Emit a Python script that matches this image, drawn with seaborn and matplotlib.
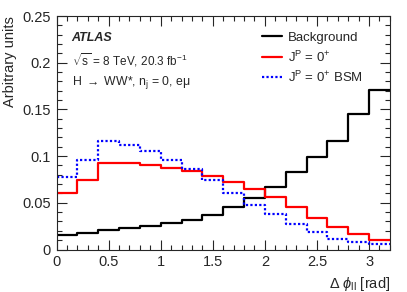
import numpy as np
import pandas as pd
import matplotlib
matplotlib.use("Agg")
import matplotlib.pyplot as plt
import seaborn as sns
from matplotlib.ticker import MultipleLocator
from matplotlib.lines import Line2D

# ---- data ----
bin_edges = [0.0, 0.2, 0.4, 0.6, 0.8, 1.0, 1.2, 1.4, 1.6, 1.8, 2.0, 2.2, 2.4, 2.6, 2.8, 3.0, 3.2]
background = [0.0156, 0.0180, 0.0213, 0.0231, 0.0256, 0.0281, 0.0317, 0.0374,
              0.0450, 0.0550, 0.0672, 0.0833, 0.0990, 0.1163, 0.1450, 0.1704]
sm_0p = [0.0610, 0.0747, 0.0930, 0.0930, 0.0900, 0.0869, 0.0844, 0.0790,
         0.0718, 0.0650, 0.0565, 0.0450, 0.0335, 0.0239, 0.0163, 0.0099]
bsm_0p = [0.0772, 0.0962, 0.1167, 0.1116, 0.1052, 0.0962, 0.0862, 0.0744,
          0.0610, 0.0482, 0.0382, 0.0278, 0.0192, 0.0116, 0.0081, 0.0059]
labels = ["Background", r"J$^{\mathrm{P}}$ = 0$^{+}$", r"J$^{\mathrm{P}}$ = 0$^{+}$ BSM"]

sns.set_style("ticks")
plt.rcParams["font.family"] = ["Liberation Sans", "DejaVu Sans"]
plt.rcParams["mathtext.fontset"] = "custom"
plt.rcParams["mathtext.rm"] = "Liberation Sans"
plt.rcParams["mathtext.it"] = "Liberation Sans:italic"
plt.rcParams["mathtext.bf"] = "Liberation Sans:bold"

edges = np.array(bin_edges)
centers = 0.5 * (edges[:-1] + edges[1:])
df = pd.DataFrame({"x": centers, "bkg": background, "sm": sm_0p, "bsm": bsm_0p})

fig = plt.figure(figsize=(4.07, 2.92), dpi=100)
ax = fig.add_axes([0.139, 0.1455, 0.819, 0.7995])

sns.histplot(data=df, x="x", weights="bkg", bins=list(bin_edges), element="step", fill=False,
             color="black", linewidth=1.6, ax=ax)
sns.histplot(data=df, x="x", weights="sm", bins=list(bin_edges), element="step", fill=False,
             color="#ff0000", linewidth=1.6, ax=ax)
sns.histplot(data=df, x="x", weights="bsm", bins=list(bin_edges), element="step", fill=False,
             color="#0000ff", linewidth=1.6, linestyle=(0, (1, 1)), ax=ax)

ax.set_xlim(0, 3.2)
ax.set_ylim(0, 0.25)
ax.xaxis.set_minor_locator(MultipleLocator(0.1))
ax.yaxis.set_minor_locator(MultipleLocator(0.01))
ax.set_xticks([0, 0.5, 1, 1.5, 2, 2.5, 3])
ax.set_xticklabels(["0", "0.5", "1", "1.5", "2", "2.5", "3"])
ax.set_yticks([0, 0.05, 0.1, 0.15, 0.2, 0.25])
ax.set_yticklabels(["0", "0.05", "0.1", "0.15", "0.2", "0.25"])
ax.tick_params(which="both", direction="in", top=True, right=True, labelsize=10.5, pad=4)
ax.tick_params(which="major", length=7, width=0.8)
ax.tick_params(which="minor", length=3.5, width=0.8)
for s in ax.spines.values():
    s.set_linewidth(0.8)

ax.set_xlabel(r"$\Delta\ \phi_{\mathrm{ll}}$ [rad]", fontsize=10.5, loc="right", labelpad=4)
ax.set_ylabel("Arbitrary units", fontsize=10.5, loc="top", labelpad=4)

ax.text(0.045, 0.905, "ATLAS", transform=ax.transAxes, fontsize=9, fontweight="bold",
        fontstyle="italic", va="center")
ax.text(0.045, 0.81, r"$\sqrt{\mathrm{s}}$ = 8 TeV, 20.3 fb$^{-1}$", transform=ax.transAxes,
        fontsize=8.5, va="center")
ax.text(0.045, 0.715, r"H $\rightarrow$ WW*, n$_{\mathrm{j}}$ = 0, e$\mathrm{\mu}$",
        transform=ax.transAxes, fontsize=8.8, va="center")

handles = [Line2D([], [], color="black", lw=1.6),
           Line2D([], [], color="#ff0000", lw=1.6),
           Line2D([], [], color="#0000ff", lw=1.6, linestyle=(0, (1, 1)))]
ax.legend(handles, labels, loc="upper left", bbox_to_anchor=(0.6, 0.955), frameon=False,
          fontsize=9.5, handlelength=1.5, handletextpad=0.5, labelspacing=0.4,
          borderaxespad=0)

fig.savefig("out.png", dpi=100)
